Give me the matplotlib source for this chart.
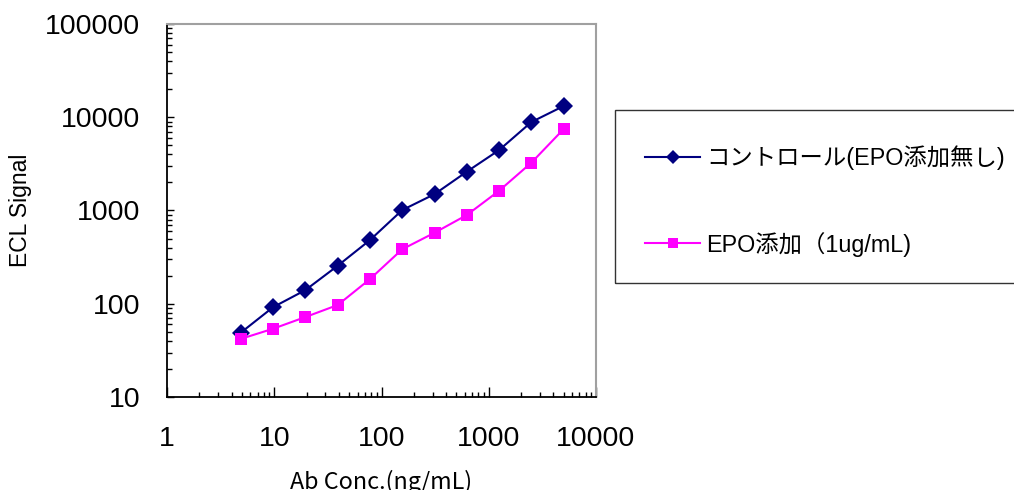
import numpy as np
import matplotlib
matplotlib.use("Agg")
import matplotlib.pyplot as plt
from matplotlib.patches import Rectangle

# data (2-fold dilution series of antibody, ng/mL)
conc = [4.88, 9.77, 19.5, 39.1, 78.1, 156, 313, 625, 1250, 2500, 5000]
control = [49, 92, 140, 256, 482, 1010, 1500, 2610, 4450, 8890, 13200]
epo_added = [42, 54, 72, 97, 184, 384, 578, 895, 1630, 3260, 7480]

label_control = "コントロール(EPO添加無し)"
label_epo = "EPO添加（1ug/mL)"

latin = "Liberation Sans"
jp = ["Liberation Sans", "Noto Sans CJK JP", "DejaVu Sans"]

fig = plt.figure(figsize=(10.14, 4.9), dpi=100)
ax = fig.add_axes([167 / 1014, 1 - 397 / 490, 429 / 1014, 373 / 490])

ax.plot(conc, control, color="#000080", lw=1.5, marker="D", ms=9.4,
        mew=0, label=label_control)
ax.plot(conc, epo_added, color="#FF00FF", lw=1.5, marker="s", ms=8.6,
        mew=0, label=label_epo)

ax.set_xscale("log")
ax.set_yscale("log")
ax.set_xlim(1, 10000)
ax.set_ylim(10, 100000)
ax.set_xticks([1, 10, 100, 1000, 10000])
ax.set_xticklabels(["1", "10", "100", "1000", "10000"])
ax.set_yticks([10, 100, 1000, 10000, 100000])
ax.set_yticklabels(["10", "100", "1000", "10000", "100000"])

ax.tick_params(axis="both", which="both", direction="in", color="black",
               width=1, top=False, right=False)
ax.tick_params(axis="y", which="major", length=5, pad=19.4, labelsize=20.5)
ax.tick_params(axis="y", which="minor", length=3.6)
ax.tick_params(axis="x", which="major", length=7, pad=21, labelsize=20.5)
ax.tick_params(axis="x", which="minor", length=3.6)
for lab in ax.get_xticklabels() + ax.get_yticklabels():
    lab.set_fontfamily(latin)

for side in ["left", "bottom"]:
    ax.spines[side].set_color("black")
    ax.spines[side].set_linewidth(1.3)
for side in ["top", "right"]:
    ax.spines[side].set_color("#A0A0A0")
    ax.spines[side].set_linewidth(1.5)

ax.set_ylabel("ECL Signal", fontsize=16.5, family=latin, labelpad=9)
ax.set_xlabel("Ab Conc.(ng/mL)", fontsize=16.8,
              family=["Noto Sans CJK JP", "DejaVu Sans"], labelpad=13)

# legend box
fig.patches.append(Rectangle((615 / 1014, 1 - 283 / 490), 420 / 1014, 173 / 490,
                             transform=fig.transFigure, fill=False,
                             edgecolor="#333333", lw=1))
fig.legend(loc="center left", bbox_to_anchor=(645 / 1014, 1 - 201 / 490),
           frameon=False, prop={"family": jp, "size": 16.8},
           handlelength=2.36, handletextpad=0.26, borderpad=0,
           borderaxespad=0, labelspacing=2.63, markerscale=0.8)

fig.savefig("out.png", dpi=100)
